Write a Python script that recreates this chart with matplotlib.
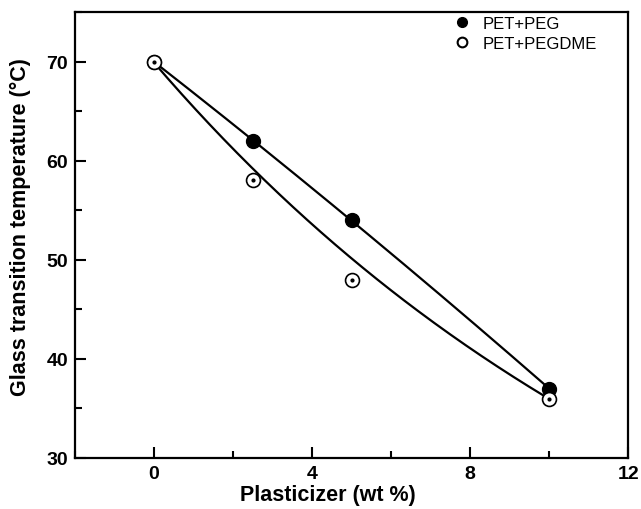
import numpy as np
import matplotlib
matplotlib.use("Agg")
import matplotlib.pyplot as plt
from matplotlib.lines import Line2D
from matplotlib.ticker import MultipleLocator

plt.rcParams['font.family'] = ['Liberation Sans', 'DejaVu Sans']

# data
wt = [0, 2.5, 5, 10]
tg_peg = [70, 62, 54, 37]
tg_pegdme = [70, 58, 48, 36]

fig = plt.figure(figsize=(6.41, 5.10), dpi=100)
ax = fig.add_axes([0.117, 0.1, 0.863, 0.8745])

xs = np.linspace(0, 10, 200)
# PEG: quadratic trend, PEGDME: exponential decay trend (end points weighted)
c1 = np.polyfit(wt, tg_peg, 2)
ax.plot(xs, np.polyval(c1, xs), color='k', lw=1.6, zorder=2)
c2 = np.polyfit(wt, np.log(tg_pegdme), 1, w=[5, 1, 1, 5])
ax.plot(xs, np.exp(np.polyval(c2, xs)), color='k', lw=1.6, zorder=2)

ax.plot(wt, tg_peg, 'o', ms=10, mfc='k', mec='k', zorder=3)
ax.plot(wt, tg_pegdme, 'o', ms=10, mfc='white', mec='k', mew=1.2, zorder=3)
ax.plot(wt, tg_pegdme, 'o', ms=2, mfc='k', mec='k', zorder=4)

ax.set_xlim(-2, 12)
ax.set_ylim(30, 75)
ax.xaxis.set_major_locator(MultipleLocator(4))
ax.xaxis.set_minor_locator(MultipleLocator(2))
ax.yaxis.set_major_locator(MultipleLocator(10))
ax.yaxis.set_minor_locator(MultipleLocator(5))
ax.tick_params(which='both', direction='in', width=1.5, labelsize=14)
ax.tick_params(which='major', length=8, pad=5)
ax.tick_params(which='minor', length=5)
ax.set_xticks([0, 4, 8, 12])
for lab in ax.get_xticklabels() + ax.get_yticklabels():
    lab.set_fontweight('bold')
for s in ax.spines.values():
    s.set_linewidth(1.6)

ax.set_xlabel('Plasticizer (wt %)', fontsize=15.5, fontweight='bold')
ax.set_ylabel('Glass transition temperature (\u00b0C)', fontsize=15.5, fontweight='bold')
ax.xaxis.set_label_coords(0.457, -0.058)
ax.yaxis.set_label_coords(-0.08, 0.52)

h1 = Line2D([], [], ls='none', marker='o', ms=7, mfc='k', mec='k')
h2 = Line2D([], [], ls='none', marker='o', ms=7, mfc='white', mec='k', mew=1.5)
ax.legend([h1, h2], ['PET+PEG', 'PET+PEGDME'], loc='upper right', frameon=False,
          fontsize=12, handletextpad=0.2, labelspacing=0.3,
          bbox_to_anchor=(0.97, 1.025))

fig.savefig('out.png', dpi=100)
